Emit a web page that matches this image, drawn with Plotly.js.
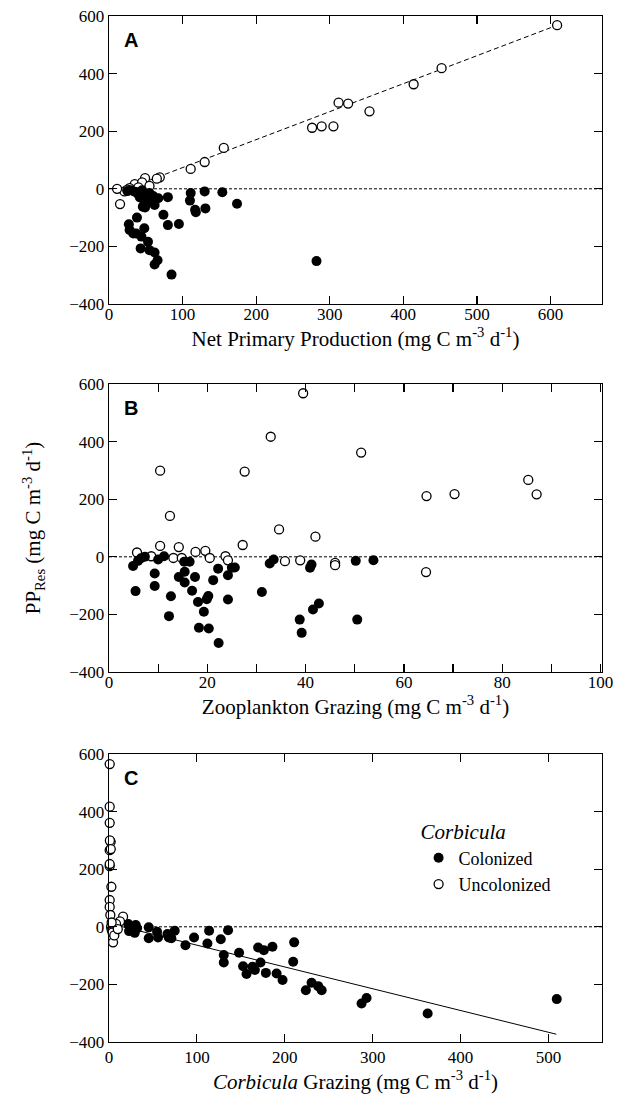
<!DOCTYPE html>
<html>
<head>
<meta charset="utf-8">
<script src="https://cdn.plot.ly/plotly-3.0.1.min.js"></script>
<style>html,body{margin:0;padding:0;background:#fff;}#chart{width:618px;height:1106px;}</style>
</head>
<body>
<div id="chart"></div>
<script>
// ---- Panel A: Net Primary Production vs PP_Res ----
const npp_col_x = [80,111,130,154,174,110,117,131,118,74,80,95,38,27,28,37,48,44,53,43,55,62,66,62,85,62,67,49,282,46,33,35,40,45,50,55,60,30,48,58,42,52,38,25];
const npp_col_y = [-29,-15,-9,-12,-52,-41,-73,-68,-81,-90,-126,-122,-100,-123,-143,-155,-137,-166,-184,-207,-213,-221,-248,-263,-298,-56,-33,-65,-251,-62,-155,-10,-20,-5,-30,-15,-25,-5,-40,-45,-30,-50,-12,-8];
const npp_unc_x = [609,452,414,354,312,325,276,289,305,156,130,111,69,65,49,35,28,21,15,11,45,55,40,25];
const npp_unc_y = [568,419,363,269,299,296,212,217,217,142,93,69,40,35,37,16,2,-9,-53,0,22,10,5,-3];
const npp_fit_x = [15,609];
const npp_fit_y = [-9,568];

// ---- Panel B: Zooplankton Grazing vs PP_Res ----
const zoo_col_x = [4.9,5.4,5.9,7.3,9.3,9.3,10,11.2,12.6,12.2,14.2,15.4,15.4,15.3,16.4,16.9,17.5,18.1,19.3,20.2,19.9,18.3,20.3,22.3,21.2,22.2,24.2,24.2,25.6,31.1,32.7,33.5,40.9,41.2,38.8,39.2,41.5,42.7,50.2,50.5,53.8,25,6.5];
const zoo_col_y = [-32,-119,-14,0,-58,-101,-9,2,-137,-206,-70,-52,-89,-17,-17,-118,-70,-157,-191,-136,-147,-246,-249,-299,-81,-41,-64,-148,-37,-122,-23,-9,-38,-27,-218,-264,-183,-162,-14,-218,-12,-38,-5];
const zoo_unc_x = [39.5,32.9,51.3,10.4,27.6,12.4,34.6,42,64.6,70.3,85.3,87,64.5,27.2,10.4,14.2,5.7,8.6,13.1,14.8,17.6,19.6,20.5,23.7,24.2,35.8,38.9,46,46];
const zoo_unc_y = [568,417,362,299,296,142,95,70,211,218,267,217,-53,41,38,34,15,2,-4,-4,17,21,-4,2,-12,-15,-12,-21,-29];

// ---- Panel C: Corbicula Grazing vs PP_Res ----
const cor_col_x = [509.5,362.6,287.4,293.1,224,230.5,238,242,197.5,190.7,178.5,209.6,210.7,186,176.2,169.7,172.4,163.3,156.5,152.6,166,148,130.6,130.6,127.2,135.5,113.9,112,96.8,87,74.8,71,68,66.5,55.8,54.7,45.2,45.2,29.3,30.4,27.7,23.6,22.8,32,22,28];
const cor_col_y = [-251,-301,-266,-247,-220,-194,-206,-220,-185,-162,-160,-121.5,-54,-69,-81,-72,-124,-139,-164,-137,-150,-90,-98,-124,-43,-12,-14,-58,-37,-64,-14,-40,-37,-25,-37,-17,-40,-2,-21,6,-3,0,-15,-5,10,-12];
const cor_unc_x = [0.8,0.8,0.8,1.9,0.8,0.8,0.8,2.7,0.8,0.8,1.5,16,12.5,4.6,2.3,3,5,7,4,6,8,1,2,10,3];
const cor_unc_y = [565,417,361,295,266,211,218,139,93,69,41,35,19,-54,0,-10,5,-5,-20,-30,10,300,270,-8,15];
const cor_fit_x = [5,509];
const cor_fit_y = [8,-373];

const serif = "'Liberation Serif', 'Times New Roman', Times, serif";
const filled = {color:'#000', size:10};
const open = {color:'#fff', size:9, line:{color:'#000', width:1.3}};

function pts(x, y, xa, ya, m, name, show) {
  return {x:x, y:y, xaxis:xa, yaxis:ya, type:'scatter', mode:'markers', marker:m, name:name, showlegend:!!show, cliponaxis:false};
}
const traces = [
  {x:npp_fit_x, y:npp_fit_y, xaxis:'x', yaxis:'y', mode:'lines', line:{color:'#000', width:1, dash:'5px,3px'}, showlegend:false},
  pts(npp_unc_x, npp_unc_y, 'x', 'y', open, 'Uncolonized', false),
  pts(npp_col_x, npp_col_y, 'x', 'y', filled, 'Colonized', false),
  pts(zoo_unc_x, zoo_unc_y, 'x2', 'y2', open, 'Uncolonized', false),
  pts(zoo_col_x, zoo_col_y, 'x2', 'y2', filled, 'Colonized', false),
  {x:cor_fit_x, y:cor_fit_y, xaxis:'x3', yaxis:'y3', mode:'lines', line:{color:'#000', width:1}, showlegend:false},
  pts(cor_col_x, cor_col_y, 'x3', 'y3', filled, 'Colonized', true),
  pts(cor_unc_x, cor_unc_y, 'x3', 'y3', open, 'Uncolonized', true)
];

const unitTxt = ' (mg C m<sup>-3</sup> d<sup>-1</sup>)';
function xax(range, dtick, anchor, title, minor, lblOff, titleOff) {
  const a = {range:range, dtick:dtick, tick0:0, anchor:anchor, ticks:'inside', ticklen:8, tickwidth:1.2, tickcolor:'#000',
    showline:true, linecolor:'#000', linewidth:1.3, mirror:'ticks', showgrid:false, zeroline:false,
    ticklabelstandoff:lblOff,
    tickfont:{family:serif, size:17, color:'#000'},
    title:{text:title, font:{family:serif, size:21, color:'#000'}, standoff:titleOff}, automargin:false};
  if (minor) a.minor = {dtick:minor, ticks:'inside', ticklen:8, tickwidth:1.2, tickcolor:'#000', showgrid:false};
  return a;
}
function yax(domain, anchor, title) {
  return {domain:domain, range:[-400,600], dtick:200, anchor:anchor, ticks:'inside', ticklen:8, tickwidth:1.2, tickcolor:'#000',
    showline:true, linecolor:'#000', linewidth:1.3, mirror:'ticks', showgrid:false, zeroline:false,
    tickfont:{family:serif, size:17, color:'#000'},
    title:{text:title, font:{family:serif, size:21, color:'#000'}, standoff:22}, automargin:false};
}
function zeroLine(xr, yr) {
  return {type:'line', xref:xr+' domain', yref:yr, x0:0, x1:1, y0:0, y1:0, layer:'below', line:{color:'#000', width:1, dash:'3px,2px'}};
}
function letter(t, xr, yr) {
  return {text:'<b>'+t+'</b>', xref:xr+' domain', yref:yr+' domain', x:0.027, y:0.917, xanchor:'left', yanchor:'middle', showarrow:false,
    font:{family:"'Liberation Sans', Arial, sans-serif", size:20, color:'#000'}};
}

const layout = {
  width:618, height:1106, paper_bgcolor:'#fff', plot_bgcolor:'#fff',
  font:{family:serif, color:'#000'},
  margin:{l:109, r:16, t:16, b:64},
  xaxis: xax([0,670], 100, 'y', 'Net Primary Production' + unitTxt, null, -6, 1),
  yaxis: yax([0.7193, 1.0], 'x', ''),
  xaxis2: xax([0,100.3], 20, 'y2', 'Zooplankton Grazing' + unitTxt, 10, -6, 1),
  yaxis2: yax([0.3606, 0.6413], 'x2', 'PP<sub>Res</sub>' + unitTxt),
  xaxis3: xax([0,561], 100, 'y3', '<i>Corbicula</i> Grazing' + unitTxt, null, -1, 6),
  yaxis3: yax([0, 0.2807], 'x3', ''),
  shapes:[zeroLine('x','y'), zeroLine('x2','y2'), zeroLine('x3','y3')],
  annotations:[letter('A','x','y'), letter('B','x2','y2'), letter('C','x3','y3')],
  showlegend:true,
  legend:{x:0.628, y:0.224, xanchor:'left', yanchor:'top', bgcolor:'rgba(0,0,0,0)', borderwidth:0,
    font:{family:serif, size:18, color:'#000'}, traceorder:'normal', tracegroupgap:0,
    title:{text:'<i>Corbicula</i>', font:{family:serif, size:21, color:'#000'}}},
  hovermode:false
};
Plotly.newPlot('chart', traces, layout, {staticPlot:true, displayModeBar:false});
</script>
</body>
</html>
